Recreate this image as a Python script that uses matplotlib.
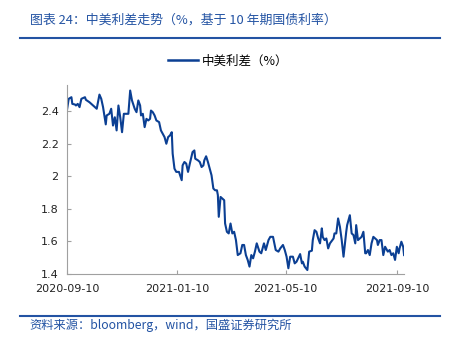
import pandas as pd
import matplotlib.pyplot as plt
from matplotlib.lines import Line2D

plt.rcParams['font.family'] = ['Noto Sans CJK SC', 'DejaVu Sans']

# China-US 10y yield spread (%)
dates = [
    "2020-09-10", "2020-09-12", "2020-09-15", "2020-09-16", "2020-09-19", "2020-09-20",
    "2020-09-22", "2020-09-24", "2020-09-26", "2020-09-30", "2020-10-01", "2020-10-05",
    "2020-10-09", "2020-10-13", "2020-10-16", "2020-10-18", "2020-10-20", "2020-10-23",
    "2020-10-24", "2020-10-27", "2020-10-29", "2020-10-31", "2020-11-02", "2020-11-04",
    "2020-11-06", "2020-11-08", "2020-11-10", "2020-11-12", "2020-11-14", "2020-11-17",
    "2020-11-19", "2020-11-21", "2020-11-24", "2020-11-26", "2020-11-28", "2020-11-30",
    "2020-12-01", "2020-12-03", "2020-12-05", "2020-12-07", "2020-12-09", "2020-12-11",
    "2020-12-12", "2020-12-14", "2020-12-16", "2020-12-18", "2020-12-21", "2020-12-23",
    "2020-12-25", "2020-12-27", "2020-12-29", "2020-12-31", "2021-01-02", "2021-01-04",
    "2021-01-05", "2021-01-07", "2021-01-09", "2021-01-12", "2021-01-15", "2021-01-16",
    "2021-01-18", "2021-01-20", "2021-01-22", "2021-01-24", "2021-01-27", "2021-01-29",
    "2021-01-30", "2021-02-02", "2021-02-04", "2021-02-06", "2021-02-08", "2021-02-09",
    "2021-02-11", "2021-02-13", "2021-02-15", "2021-02-17", "2021-02-19", "2021-02-21",
    "2021-02-23", "2021-02-24", "2021-02-25", "2021-02-27", "2021-03-03", "2021-03-04",
    "2021-03-06", "2021-03-08", "2021-03-10", "2021-03-12", "2021-03-14", "2021-03-16",
    "2021-03-18", "2021-03-21", "2021-03-23", "2021-03-25", "2021-03-27", "2021-03-29",
    "2021-03-31", "2021-04-02", "2021-04-04", "2021-04-06", "2021-04-08", "2021-04-11",
    "2021-04-13", "2021-04-16", "2021-04-18", "2021-04-21", "2021-04-23", "2021-04-26",
    "2021-04-29", "2021-05-02", "2021-05-04", "2021-05-07", "2021-05-09", "2021-05-11",
    "2021-05-13", "2021-05-15", "2021-05-18", "2021-05-20", "2021-05-22", "2021-05-26",
    "2021-05-28", "2021-05-29", "2021-05-31", "2021-06-03", "2021-06-05", "2021-06-08",
    "2021-06-09", "2021-06-11", "2021-06-13", "2021-06-15", "2021-06-17", "2021-06-19",
    "2021-06-20", "2021-06-22", "2021-06-24", "2021-06-26", "2021-06-28", "2021-07-02",
    "2021-07-03", "2021-07-05", "2021-07-07", "2021-07-09", "2021-07-11", "2021-07-13",
    "2021-07-16", "2021-07-17", "2021-07-20", "2021-07-22", "2021-07-24", "2021-07-26",
    "2021-07-27", "2021-07-29", "2021-07-31", "2021-08-02", "2021-08-04", "2021-08-06",
    "2021-08-07", "2021-08-09", "2021-08-11", "2021-08-13", "2021-08-15", "2021-08-17",
    "2021-08-19", "2021-08-20", "2021-08-22", "2021-08-24", "2021-08-26", "2021-08-28",
    "2021-08-30", "2021-08-31", "2021-09-02", "2021-09-04", "2021-09-06", "2021-09-08",
    "2021-09-10", "2021-09-12", "2021-09-13", "2021-09-15", "2021-09-17", "2021-09-18",
]
spread = [
    2.404, 2.476, 2.486, 2.445, 2.441, 2.435, 2.445, 2.425, 2.476, 2.486, 2.470, 2.455,
    2.435, 2.415, 2.502, 2.476, 2.425, 2.319, 2.374, 2.384, 2.415, 2.312, 2.363, 2.282,
    2.435, 2.363, 2.271, 2.384, 2.384, 2.384, 2.527, 2.466, 2.415, 2.394, 2.466, 2.435,
    2.374, 2.384, 2.302, 2.353, 2.343, 2.353, 2.404, 2.394, 2.374, 2.343, 2.333, 2.282,
    2.262, 2.241, 2.200, 2.241, 2.251, 2.271, 2.139, 2.047, 2.027, 2.027, 1.976, 2.067,
    2.088, 2.078, 2.027, 2.078, 2.149, 2.159, 2.108, 2.098, 2.088, 2.057, 2.067, 2.098,
    2.123, 2.088, 2.047, 2.006, 1.925, 1.914, 1.914, 1.884, 1.751, 1.873, 1.853, 1.710,
    1.659, 1.649, 1.710, 1.649, 1.659, 1.608, 1.516, 1.527, 1.578, 1.578, 1.516, 1.486,
    1.445, 1.516, 1.496, 1.537, 1.588, 1.537, 1.527, 1.588, 1.547, 1.608, 1.628, 1.628,
    1.547, 1.537, 1.557, 1.578, 1.547, 1.506, 1.435, 1.506, 1.506, 1.465, 1.475, 1.522,
    1.465, 1.475, 1.445, 1.424, 1.537, 1.543, 1.608, 1.669, 1.659, 1.618, 1.588, 1.680,
    1.628, 1.608, 1.618, 1.557, 1.588, 1.618, 1.649, 1.649, 1.741, 1.690, 1.608, 1.506,
    1.659, 1.700, 1.761, 1.649, 1.639, 1.588, 1.700, 1.608, 1.618, 1.628, 1.659, 1.527,
    1.527, 1.547, 1.516, 1.588, 1.628, 1.618, 1.608, 1.578, 1.608, 1.608, 1.516, 1.567,
    1.547, 1.537, 1.547, 1.516, 1.527, 1.486, 1.567, 1.527, 1.557, 1.598, 1.567, 1.516,
]
tick_dates = ["2020-09-10", "2021-01-10", "2021-05-10", "2021-09-10"]
y_ticks = [1.4, 1.6, 1.8, 2.0, 2.2, 2.4]
y_labels = ["1.4", "1.6", "1.8", "2", "2.2", "2.4"]

title = "图表 24：中美利差走势（%，基于 10 年期国债利率）"
series_name = "中美利差（%）"
source = "资料来源：bloomberg，wind，国盛证券研究所"

line_color = "#0b3f93"
brand = "#2353a3"
axis_gray = "#a0a0a0"

x = pd.to_datetime(dates)

fig = plt.figure(figsize=(4.52, 3.42), dpi=100)
ax = fig.add_axes([0.148, 0.199, 0.746, 0.552])

ax.plot(x, spread, color=line_color, lw=1.5, solid_joinstyle='round')

ax.set_xlim(x[0], x[-1])
ax.set_ylim(1.4, 2.56)
ax.set_yticks(y_ticks)
ax.set_yticklabels(y_labels, family='DejaVu Sans')
ax.set_xticks(pd.to_datetime(tick_dates))
ax.set_xticklabels(tick_dates, family='DejaVu Sans')

for side in ['top', 'right']:
    ax.spines[side].set_visible(False)
for side in ['left', 'bottom']:
    ax.spines[side].set_color(axis_gray)
    ax.spines[side].set_linewidth(0.8)
ax.tick_params(axis='both', direction='in', length=3, color=axis_gray,
               labelsize=8, labelcolor='#222222')
ax.tick_params(axis='x', pad=7)
ax.tick_params(axis='y', pad=6)

# legend on top
handle = Line2D([], [], color=line_color, lw=1.8)
fig.legend([handle], [series_name], loc='center', bbox_to_anchor=(0.505, 0.822),
           frameon=False, fontsize=9, handlelength=2.4, handletextpad=0.3,
           prop={'size': 9})

# header and footer
fig.text(0.066, 0.94, title, fontsize=9.3, color=brand, style='italic',
         ha='left', va='center')
fig.add_artist(Line2D([0.044, 0.974], [0.89, 0.89], color=brand, lw=1.5))
fig.add_artist(Line2D([0.044, 0.974], [0.077, 0.077], color=brand, lw=1.5))
fig.text(0.066, 0.048, source, fontsize=8.8, color=brand, style='italic',
         ha='left', va='center')

fig.savefig("out.png", dpi=100)
